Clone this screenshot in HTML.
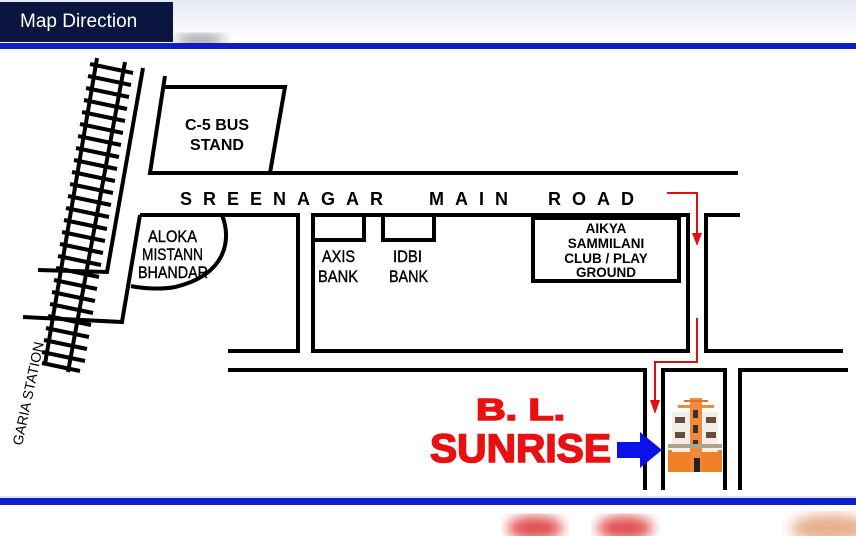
<!DOCTYPE html>
<html><head><meta charset="utf-8"><style>
html,body{margin:0;padding:0;background:#fff;width:856px;height:536px;overflow:hidden}
svg{display:block}
text{font-family:"Liberation Sans",sans-serif}
</style></head><body>
<svg width="856" height="536" viewBox="0 0 856 536" xmlns="http://www.w3.org/2000/svg">
<defs>
<linearGradient id="tg" x1="0" y1="0" x2="0" y2="1"><stop offset="0" stop-color="#e6e8f6"/><stop offset="1" stop-color="#fff"/></linearGradient>
<filter id="bl"><feGaussianBlur stdDeviation="6"/></filter>
</defs>
<rect x="0" y="0" width="856" height="42" fill="url(#tg)"/>
<ellipse cx="200" cy="40" rx="25" ry="6" fill="#999" filter="url(#bl)"/>
<rect x="0" y="2" width="173" height="40" fill="#0a1540"/>
<text x="20" y="27" font-size="19" fill="#fff" font-family="DejaVu Sans,sans-serif">Map Direction</text>
<rect x="0" y="43" width="856" height="6" fill="#0d1fc8"/>
<rect x="0" y="498" width="856" height="7" fill="#0d1fc8"/>
<rect x="0" y="496" width="856" height="2" fill="#dfe3f4"/>
<ellipse cx="535" cy="528" rx="28" ry="12" fill="#e25050" filter="url(#bl)"/>
<ellipse cx="625" cy="528" rx="28" ry="12" fill="#e25050" filter="url(#bl)"/>
<ellipse cx="830" cy="528" rx="40" ry="14" fill="#e8b090" filter="url(#bl)"/>

<g stroke="#000" stroke-width="4" fill="none" stroke-linecap="butt">
<line x1="97" y1="58" x2="45" y2="364"/>
<line x1="125" y1="62" x2="68" y2="372"/>
<g>
<line x1="90" y1="64" x2="133" y2="73"/><line x1="88" y1="76" x2="131" y2="85"/><line x1="86" y1="88" x2="129" y2="97"/>
<line x1="84" y1="100" x2="127" y2="109"/><line x1="82" y1="112" x2="125" y2="121"/><line x1="80" y1="124" x2="123" y2="133"/>
<line x1="78" y1="136" x2="121" y2="145"/><line x1="76" y1="148" x2="119" y2="157"/><line x1="74" y1="160" x2="117" y2="169"/>
<line x1="72" y1="172" x2="115" y2="181"/><line x1="70" y1="184" x2="113" y2="193"/><line x1="68" y1="196" x2="111" y2="205"/>
<line x1="66" y1="208" x2="109" y2="217"/><line x1="64" y1="220" x2="107" y2="229"/><line x1="62" y1="232" x2="105" y2="241"/>
<line x1="60" y1="244" x2="103" y2="253"/><line x1="58" y1="256" x2="101" y2="265"/><line x1="56" y1="268" x2="99" y2="277"/>
<line x1="54" y1="280" x2="97" y2="289"/><line x1="52" y1="292" x2="95" y2="301"/><line x1="50" y1="304" x2="93" y2="313"/>
<line x1="48" y1="316" x2="91" y2="325"/><line x1="46" y1="328" x2="89" y2="337"/><line x1="44" y1="340" x2="87" y2="349"/>
<line x1="42" y1="352" x2="85" y2="361"/><line x1="42" y1="363" x2="80" y2="371"/>
</g>
<polyline points="143,68 107,272 38,270"/>
<polyline points="140,215 122,322 23,317"/>
<polyline points="165,76 150,173 738,173"/>
<polyline points="163,87 285,87 270,173"/>
<path d="M140,215 H298 V351 H228"/>
<path d="M222,215 C232,240 226,275 175,287 C160,290 140,288 131,286"/>
<path d="M313,351 V215 H688 V351 Z"/>
<rect x="313" y="215" width="51" height="25"/>
<rect x="383" y="215" width="51" height="25"/>
<rect x="533" y="218" width="146" height="63"/>
<path d="M740,215 H706 V351 H843"/>
<path d="M228,370 H645 V490"/>
<path d="M663,490 V370 H725 V490"/>
<path d="M740,490 V370 H848"/>
</g>
<g stroke="#e01010" stroke-width="2" fill="none">
<polyline points="667,193 697,193 697,238"/>
<polyline points="697,318 697,362 655,362 655,405"/>
</g>
<path d="M692,233 L697,246 L702,233 Z" fill="#e01010"/>
<path d="M650,400 L655,414 L660,400 Z" fill="#e01010"/>
<g font-weight="bold" text-anchor="middle" fill="#000">
<text x="217" y="130" font-size="16">C-5 BUS</text>
<text x="217" y="150" font-size="16">STAND</text>
<text x="606" y="233" font-size="13.5">AIKYA</text>
<text x="606" y="248" font-size="13.5">SAMMILANI</text>
<text x="606" y="263" font-size="13.5">CLUB / PLAY</text>
<text x="606" y="277" font-size="13.5">GROUND</text>
</g>
<g font-size="17" fill="#000" stroke="#000" stroke-width="0.4" lengthAdjust="spacingAndGlyphs">
<text x="322" y="262" textLength="33" lengthAdjust="spacingAndGlyphs">AXIS</text>
<text x="318" y="282" textLength="40" lengthAdjust="spacingAndGlyphs">BANK</text>
<text x="393" y="262" textLength="29" lengthAdjust="spacingAndGlyphs">IDBI</text>
<text x="389" y="282" textLength="39" lengthAdjust="spacingAndGlyphs">BANK</text>
<text x="148" y="242" textLength="49" lengthAdjust="spacingAndGlyphs">ALOKA</text>
<text x="142" y="260" textLength="61" lengthAdjust="spacingAndGlyphs">MISTANN</text>
<text x="138" y="278" textLength="70" lengthAdjust="spacingAndGlyphs">BHANDAR</text>
</g>
<g font-weight="bold" font-size="18" fill="#000" letter-spacing="11">
<text x="180" y="205">SREENAGAR</text>
<text x="429" y="205">MAIN</text>
<text x="548" y="205">ROAD</text>
</g>
<text x="0" y="0" font-size="14" transform="translate(22,446) rotate(-78)">GARIA STATION</text>
<g fill="#e81010" stroke="#e81010" stroke-width="1.6" font-weight="bold">
<text x="476" y="420" font-size="31" textLength="89" lengthAdjust="spacingAndGlyphs">B. L.</text>
<text x="430" y="462" font-size="40" textLength="181" lengthAdjust="spacingAndGlyphs">SUNRISE</text>
</g>
<path d="M617,442 H640 V432 L662,450 L640,468 V458 H617 Z" fill="#0a12e8"/>
<g>
<rect x="668" y="450" width="54" height="22" fill="#f07f2a"/>
<rect x="672" y="412" width="46" height="40" fill="#f4efe6"/>
<rect x="690" y="398" width="12" height="74" fill="#f08a3a"/>
<rect x="678" y="405" width="36" height="3" fill="#f08a3a"/>
<rect x="684" y="400" width="24" height="2" fill="#e07030"/>
<rect x="675" y="417" width="10" height="6" fill="#6a4a3a"/><rect x="706" y="417" width="10" height="6" fill="#6a4a3a"/>
<rect x="675" y="432" width="10" height="6" fill="#6a4a3a"/><rect x="706" y="432" width="10" height="6" fill="#6a4a3a"/>
<rect x="693" y="410" width="5" height="8" fill="#333"/><rect x="693" y="425" width="5" height="8" fill="#333"/><rect x="693" y="440" width="5" height="8" fill="#333"/>
<rect x="668" y="444" width="54" height="4" fill="#b0a090"/>
<rect x="694" y="458" width="6" height="14" fill="#222"/>
</g>
</svg>
</body></html>
